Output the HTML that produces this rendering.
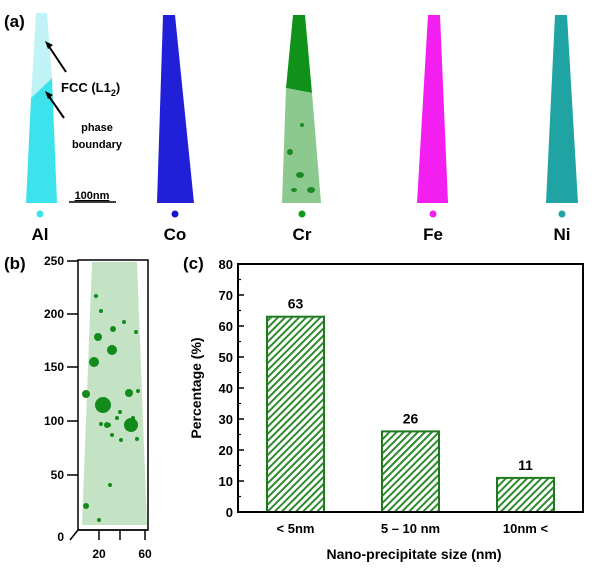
<!DOCTYPE html>
<html><head><meta charset="utf-8"><style>
body{margin:0;background:#fff;}
svg text{font-family:"Liberation Sans",Arial,sans-serif;font-weight:bold;}
</style></head><body>
<svg id="fig" width="600" height="575" viewBox="0 0 600 575" xmlns="http://www.w3.org/2000/svg">
<defs>
<pattern id="hatch" patternUnits="userSpaceOnUse" width="5" height="5" patternTransform="rotate(45)">
<rect width="5" height="5" fill="#fff"/><rect width="2" height="5" fill="#2e8b2e"/></pattern>
<filter id="noise"><feTurbulence type="fractalNoise" baseFrequency="0.9" numOctaves="1" result="n"/><feColorMatrix type="saturate" values="0"/><feComponentTransfer><feFuncA type="table" tableValues="0 0.5"/></feComponentTransfer><feComposite in2="SourceGraphic" operator="in"/><feBlend in="SourceGraphic" mode="screen"/></filter>
</defs>

<!-- Panel a -->
<g>
<text x="4" y="27" font-size="17">(a)</text>
<g>
<polygon points="36,13 47,13 52,78 31,98" fill="#bff3f5"/>
<polygon points="31,98 52,78 57,203 26,203" fill="#3ce3ec"/>
</g>
<line x1="66" y1="72" x2="48" y2="45" stroke="#000" stroke-width="2"/>
<polygon points="45,41 53,45 48,49" fill="#000"/>
<line x1="64" y1="118" x2="48" y2="95" stroke="#000" stroke-width="2"/>
<polygon points="45,91 53,95 48,99" fill="#000"/>
<text x="61" y="92" font-size="13">FCC (L1<tspan font-size="9" dy="4">2</tspan><tspan dy="-4">)</tspan></text>
<text x="97" y="131" font-size="11" text-anchor="middle">phase</text>
<text x="97" y="148" font-size="11" text-anchor="middle">boundary</text>
<text x="92" y="199" font-size="11" text-anchor="middle" text-decoration="underline">100nm</text>
<line x1="69" y1="202" x2="116" y2="202" stroke="#000" stroke-width="1.5"/>
<polygon points="163,15 175,15 194,203 157,203" fill="#2020d8"/>
<polygon points="293,15 305,15 312,93 286,88" fill="#10921a"/>
<polygon points="286,88 312,93 321,203 282,203" fill="#8cc98e"/>
<g fill="#1a8a24"><ellipse cx="290" cy="152" rx="3" ry="3"/><ellipse cx="300" cy="175" rx="4" ry="3"/><ellipse cx="311" cy="190" rx="4" ry="3"/><ellipse cx="302" cy="125" rx="2" ry="2"/><ellipse cx="294" cy="190" rx="3" ry="2"/></g>
<polygon points="428,15 440,15 448,203 417,203" fill="#f21ff0"/>
<polygon points="555,15 567,15 578,203 546,203" fill="#20a3a3"/>
<g>
<circle cx="40" cy="214" r="3.5" fill="#3ce3ec"/><text x="40" y="240" font-size="17" text-anchor="middle">Al</text>
<circle cx="175" cy="214" r="3.5" fill="#1515d0"/><text x="175" y="240" font-size="17" text-anchor="middle">Co</text>
<circle cx="302" cy="214" r="3.5" fill="#109a1a"/><text x="302" y="240" font-size="17" text-anchor="middle">Cr</text>
<circle cx="433" cy="214" r="3.5" fill="#f21ff0"/><text x="433" y="240" font-size="17" text-anchor="middle">Fe</text>
<circle cx="562" cy="214" r="3.5" fill="#20a3a3"/><text x="562" y="240" font-size="17" text-anchor="middle">Ni</text>
</g>
</g>

<!-- Panel b -->
<g>
<text x="4" y="269" font-size="17">(b)</text>
<polygon points="92,262 137,262 147,525 82,525" fill="#c4e2c4"/>
<g fill="#138a1c">
<circle cx="103" cy="405" r="8"/><circle cx="131" cy="425" r="7"/><circle cx="112" cy="350" r="5"/><circle cx="94" cy="362" r="5"/><circle cx="86" cy="394" r="4"/><circle cx="129" cy="393" r="4"/><circle cx="98" cy="337" r="4"/><circle cx="113" cy="329" r="3"/><circle cx="107" cy="425" r="3"/><circle cx="86" cy="506" r="3"/>
<circle cx="121" cy="440" r="2"/><circle cx="112" cy="435" r="2"/><circle cx="117" cy="418" r="2"/><circle cx="133" cy="418" r="2"/><circle cx="109" cy="425" r="2"/><circle cx="120" cy="412" r="2"/><circle cx="96" cy="296" r="2"/><circle cx="101" cy="311" r="2"/><circle cx="124" cy="322" r="2"/><circle cx="136" cy="332" r="2"/><circle cx="138" cy="391" r="2"/><circle cx="101" cy="424" r="2"/><circle cx="110" cy="485" r="2"/><circle cx="99" cy="520" r="2"/><circle cx="137" cy="439" r="2"/></g>
<rect x="78" y="260" width="70" height="270" fill="none" stroke="#000" stroke-width="1.5"/>
<line x1="70" y1="540" x2="78" y2="530" stroke="#000" stroke-width="1.5"/>
<line x1="78" y1="530" x2="148" y2="530" stroke="#000" stroke-width="1.5"/>
<g font-size="12" text-anchor="end">
<text x="64" y="265">250</text><text x="64" y="318">200</text><text x="64" y="371">150</text><text x="64" y="425">100</text><text x="64" y="479">50</text><text x="64" y="541">0</text>
<g stroke="#000" stroke-width="1.5"><line x1="67" y1="261" x2="78" y2="261"/><line x1="67" y1="314" x2="78" y2="314"/><line x1="67" y1="367" x2="78" y2="367"/><line x1="67" y1="421" x2="78" y2="421"/><line x1="67" y1="475" x2="78" y2="475"/></g>
</g>
<g stroke="#000" stroke-width="1.5"><line x1="99" y1="530" x2="99" y2="540"/><line x1="120" y1="530" x2="120" y2="540"/><line x1="145" y1="530" x2="145" y2="540"/></g>
<text x="99" y="558" font-size="12" text-anchor="middle">20</text>
<text x="145" y="558" font-size="12" text-anchor="middle">60</text>
</g>

<!-- Panel c -->
<g id="chart">
<text x="183" y="269" font-size="17">(c)</text>
</g>
</svg>
<script>
const categories = ["< 5nm", "5 \u2013 10 nm", "10nm <"];
const values = [63, 26, 11];
const yTicks = [0, 10, 20, 30, 40, 50, 60, 70, 80];

const svg = document.getElementById('chart');
const NS = 'http://www.w3.org/2000/svg';
const X0 = 238, X1 = 583, Y0 = 512, Y1 = 264, YMAX = 80;
const y = v => Y0 - (v / YMAX) * (Y0 - Y1);
const band = (X1 - X0) / categories.length;
const xc = i => X0 + band * (i + 0.5);
const BW = 57;
function mk(tag, attrs, text) {
  const e = document.createElementNS(NS, tag);
  for (const k in attrs) e.setAttribute(k, attrs[k]);
  if (text !== undefined) e.textContent = text;
  svg.appendChild(e);
  return e;
}
values.forEach((v, i) => {
  const r = mk('rect', {x: xc(i) - BW / 2, y: y(v), width: BW, height: y(0) - y(v), fill: 'url(#hatch)', stroke: '#1f7a1f', 'stroke-width': 2});
  
  
  const t = mk('text', {x: xc(i), y: y(v) - 8, 'font-size': 14, 'text-anchor': 'middle'}, String(v));
  
  
  const c = mk('text', {x: xc(i), y: 533, 'font-size': 13, 'text-anchor': 'middle'}, categories[i]);
  
  
});
yTicks.forEach(v => {
  const t = mk('text', {x: 233, y: y(v) + 5, 'font-size': 13, 'text-anchor': 'end'}, String(v));
  
  
  mk('line', {x1: X0, y1: y(v), x2: X0 + 6, y2: y(v), stroke: '#000', 'stroke-width': 1.5});
  if (v < YMAX) mk('line', {x1: X0, y1: y(v + 5), x2: X0 + 3, y2: y(v + 5), stroke: '#000', 'stroke-width': 1.2});
});
const f = mk('rect', {x: X0, y: Y1, width: X1 - X0, height: Y0 - Y1, fill: 'none', stroke: '#000', 'stroke-width': 2});


const xt = mk('text', {x: 414, y: 559, 'font-size': 14, 'text-anchor': 'middle'}, 'Nano-precipitate  size (nm)');


const yt = mk('text', {x: 0, y: 0, 'font-size': 14, 'text-anchor': 'middle', transform: 'translate(201,388) rotate(-90)'}, 'Percentage (%)');


</script>
</body></html>
